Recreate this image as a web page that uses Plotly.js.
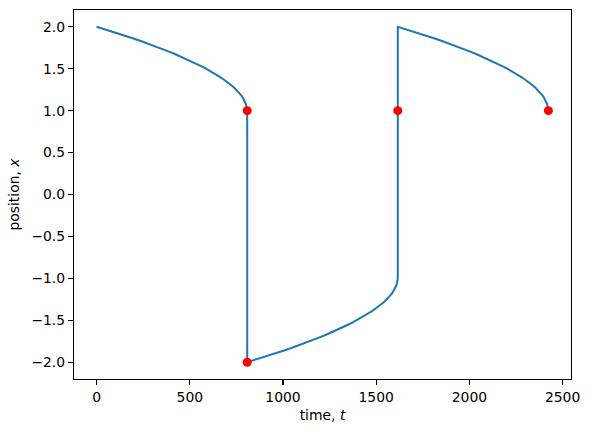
<!DOCTYPE html>
<html>
<head>
<meta charset="utf-8">
<script src="https://cdn.plot.ly/plotly-3.0.1.min.js"></script>
<style>html,body{margin:0;padding:0;background:#fff;}#chart{width:589px;height:433px;}</style>
</head>
<body>
<div id="chart"></div>
<script>
// Slow branch 1: x from 2 down to 1
const t1 = [0,30,59,95,130,165,198,237,275,305,335,364,392,420,446,472,497,521,544,566,587,608,627,646,663,680,696,711,724,737,749,762,769,780,785,793,797,801,803,805,806,807,808];
const x1 = [2.0,1.98,1.96,1.935,1.91,1.885,1.86,1.83,1.80,1.775,1.75,1.725,1.70,1.675,1.65,1.625,1.60,1.575,1.55,1.525,1.50,1.475,1.45,1.425,1.40,1.375,1.35,1.325,1.30,1.275,1.25,1.22,1.20,1.17,1.15,1.12,1.10,1.08,1.06,1.045,1.03,1.015,1.0];
// Slow branch 2: x from -2 up to -1
const t2 = [808,838,867,903,938,973,1006,1045,1083,1113,1143,1172,1200,1228,1254,1280,1305,1329,1352,1374,1395,1416,1435,1454,1471,1488,1504,1519,1532,1545,1557,1570,1577,1588,1593,1601,1605,1609,1611,1613,1614,1615,1616];
const x2 = [-2.0,-1.98,-1.96,-1.935,-1.91,-1.885,-1.86,-1.83,-1.80,-1.775,-1.75,-1.725,-1.70,-1.675,-1.65,-1.625,-1.60,-1.575,-1.55,-1.525,-1.50,-1.475,-1.45,-1.425,-1.40,-1.375,-1.35,-1.325,-1.30,-1.275,-1.25,-1.22,-1.20,-1.17,-1.15,-1.12,-1.10,-1.08,-1.06,-1.045,-1.03,-1.015,-1.0];
// Slow branch 3: x from 2 down to 1
const t3 = [1616,1646,1675,1711,1746,1781,1814,1853,1891,1921,1951,1980,2008,2036,2062,2088,2113,2137,2160,2182,2203,2224,2243,2262,2279,2296,2312,2327,2340,2353,2365,2378,2385,2396,2401,2409,2413,2417,2419,2421,2422,2423,2424];
const x3 = [2.0,1.98,1.96,1.935,1.91,1.885,1.86,1.83,1.80,1.775,1.75,1.725,1.70,1.675,1.65,1.625,1.60,1.575,1.55,1.525,1.50,1.475,1.45,1.425,1.40,1.375,1.35,1.325,1.30,1.275,1.25,1.22,1.20,1.17,1.15,1.12,1.10,1.08,1.06,1.045,1.03,1.015,1.0];
// Red markers
const tDots = [808, 808, 1616, 2424];
const xDots = [1, -2, 1, 1];
// Tick labels
const xTickVals = [0, 500, 1000, 1500, 2000, 2500];
const xTickText = ['0', '500', '1000', '1500', '2000', '2500'];
const yTickVals = [-2.0, -1.5, -1.0, -0.5, 0.0, 0.5, 1.0, 1.5, 2.0];
const yTickText = ['\u22122.0', '\u22121.5', '\u22121.0', '\u22120.5', '0.0', '0.5', '1.0', '1.5', '2.0'];

const tAll = t1.concat(t2, t3);
const xAll = x1.concat(x2, x3);

const font = {family: 'DejaVu Sans, sans-serif', size: 13.9, color: '#000'};

const traces = [
  {x: tAll, y: xAll, mode: 'lines', line: {color: '#1f77b4', width: 2}, hoverinfo: 'skip'},
  {x: tDots, y: xDots, mode: 'markers', marker: {color: '#ff0000', size: 9}, hoverinfo: 'skip'}
];

const axisCommon = {
  showgrid: false, zeroline: false, showline: true, mirror: true,
  linecolor: '#000', linewidth: 1.1, ticks: 'outside', ticklen: 5, tickwidth: 1.1,
  tickcolor: '#000', tickfont: font
};

const layout = {
  width: 589, height: 433,
  margin: {l: 74, r: 18, t: 10, b: 54},
  paper_bgcolor: '#fff', plot_bgcolor: '#fff',
  showlegend: false,
  font: font,
  xaxis: Object.assign({}, axisCommon, {
    range: [-121.2, 2545.2], tickmode: 'array', tickvals: xTickVals, ticktext: xTickText,
    title: {text: 'time, <i>t</i>', font: font, standoff: 6}
  }),
  yaxis: Object.assign({}, axisCommon, {
    range: [-2.2, 2.2], tickmode: 'array', tickvals: yTickVals, ticktext: yTickText,
    title: {text: 'position, <i>x</i>', font: font, standoff: 8}
  })
};

Plotly.newPlot('chart', traces, layout, {staticPlot: true, displayModeBar: false});
</script>
</body>
</html>
